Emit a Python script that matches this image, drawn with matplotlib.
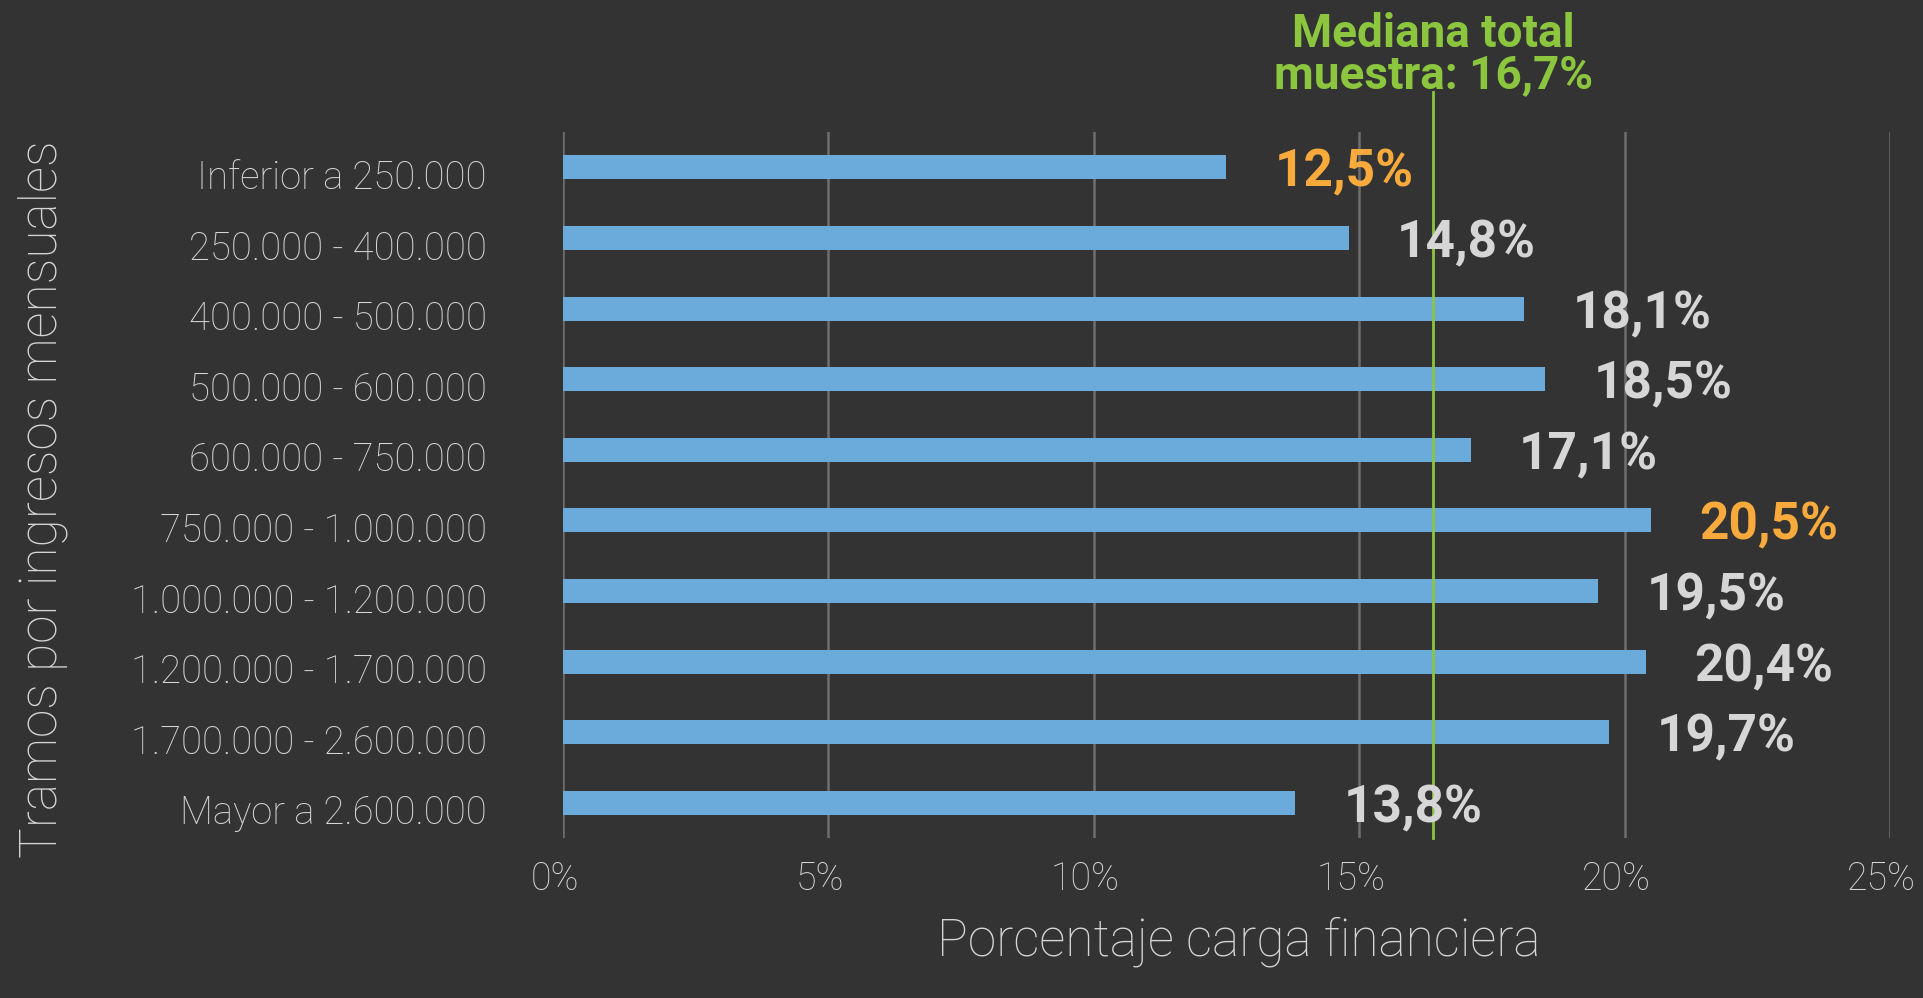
import matplotlib
matplotlib.use('Agg')
import matplotlib.pyplot as plt
import matplotlib.transforms as mtransforms

# Datos
categorias = ['Inferior a 250.000', '250.000 - 400.000', '400.000 - 500.000',
              '500.000 - 600.000', '600.000 - 750.000', '750.000 - 1.000.000',
              '1.000.000 - 1.200.000', '1.200.000 - 1.700.000',
              '1.700.000 - 2.600.000', 'Mayor a 2.600.000']
valores = [12.5, 14.8, 18.1, 18.5, 17.1, 20.5, 19.5, 20.4, 19.7, 13.8]
destacados = [0, 5]  # min y max en naranja
mediana_texto = 16.7
mediana_linea = 16.4  # posicion donde se dibuja la linea en el original
xticks = [0, 5, 10, 15, 20, 25]
xtick_labels = ['0%', '5%', '10%', '15%', '20%', '25%']

FONDO = '#333333'
AZUL = '#6aabdc'
GRIS_TXT = '#d6d6d6'
NARANJA = '#f8ab3c'
VERDE = '#8cc63f'
GRID = '#6e6e6e'

plt.rcParams['font.family'] = ['Roboto', 'DejaVu Sans']

fig = plt.figure(figsize=(19.23, 9.98), dpi=100, facecolor=FONDO)
ax = fig.add_axes([0.2928, 0.1603, 0.69, 0.7074], facecolor=FONDO)

y = list(range(len(categorias)))
ax.barh(y, valores, height=0.34, color=AZUL, zorder=3)

ax.set_xlim(0, 25)
ax.set_ylim(9.5, -0.5)
ax.set_xticks(xticks)
ax.set_xticklabels(xtick_labels, fontsize=27, fontweight='light', color=GRIS_TXT)
ax.set_yticks(y)
ax.set_yticklabels(categorias, fontsize=27.5, fontweight='light', color=GRIS_TXT)
ax.tick_params(axis='both', length=0)
ax.tick_params(axis='y', pad=55)
ax.tick_params(axis='x', pad=16)
for s in ax.spines.values():
    s.set_visible(False)
ax.grid(axis='x', color=GRID, linewidth=1.8, zorder=1)
ax.set_axisbelow(True)

# pequeños desplazamientos de las etiquetas como en el original
off_y = mtransforms.ScaledTranslation(0, -5 / 72, fig.dpi_scale_trans)
for lab in ax.get_yticklabels():
    lab.set_transform(lab.get_transform() + off_y)
off_x = mtransforms.ScaledTranslation(-6 / 72, 0, fig.dpi_scale_trans)
for lab in ax.get_xticklabels():
    lab.set_transform(lab.get_transform() + off_x)

# Etiquetas de valor
for i, v in enumerate(valores):
    col = NARANJA if i in destacados else GRIS_TXT
    ax.annotate(f'{v:.1f}%'.replace('.', ','), xy=(v, i), xytext=(35, -4),
                textcoords='offset points', ha='left', va='center',
                fontsize=37, fontweight='bold', color=col, zorder=5)

# Linea de la mediana
ax.axvline(mediana_linea, ymin=0, ymax=1.057, color=VERDE, linewidth=2,
           clip_on=False, zorder=4)
trans = mtransforms.blended_transform_factory(ax.transData, fig.transFigure)
ax.text(mediana_linea, 0.945,
        f'Mediana total\nmuestra: {mediana_texto:.1f}%'.replace('.', ','),
        transform=trans, ha='center', va='center', fontsize=33,
        fontweight='bold', color=VERDE, linespacing=0.92)

fig.text(1239 / 1923, 0.056, 'Porcentaje carga financiera', ha='center',
         va='center', fontsize=37, fontweight='light', color=GRIS_TXT)
fig.text(43 / 1923, 0.50, 'Tramos por ingresos mensuales', ha='center',
         va='center', rotation=90, fontsize=37, fontweight='light',
         color=GRIS_TXT)

fig.savefig('out.png', dpi=100, facecolor=FONDO)
